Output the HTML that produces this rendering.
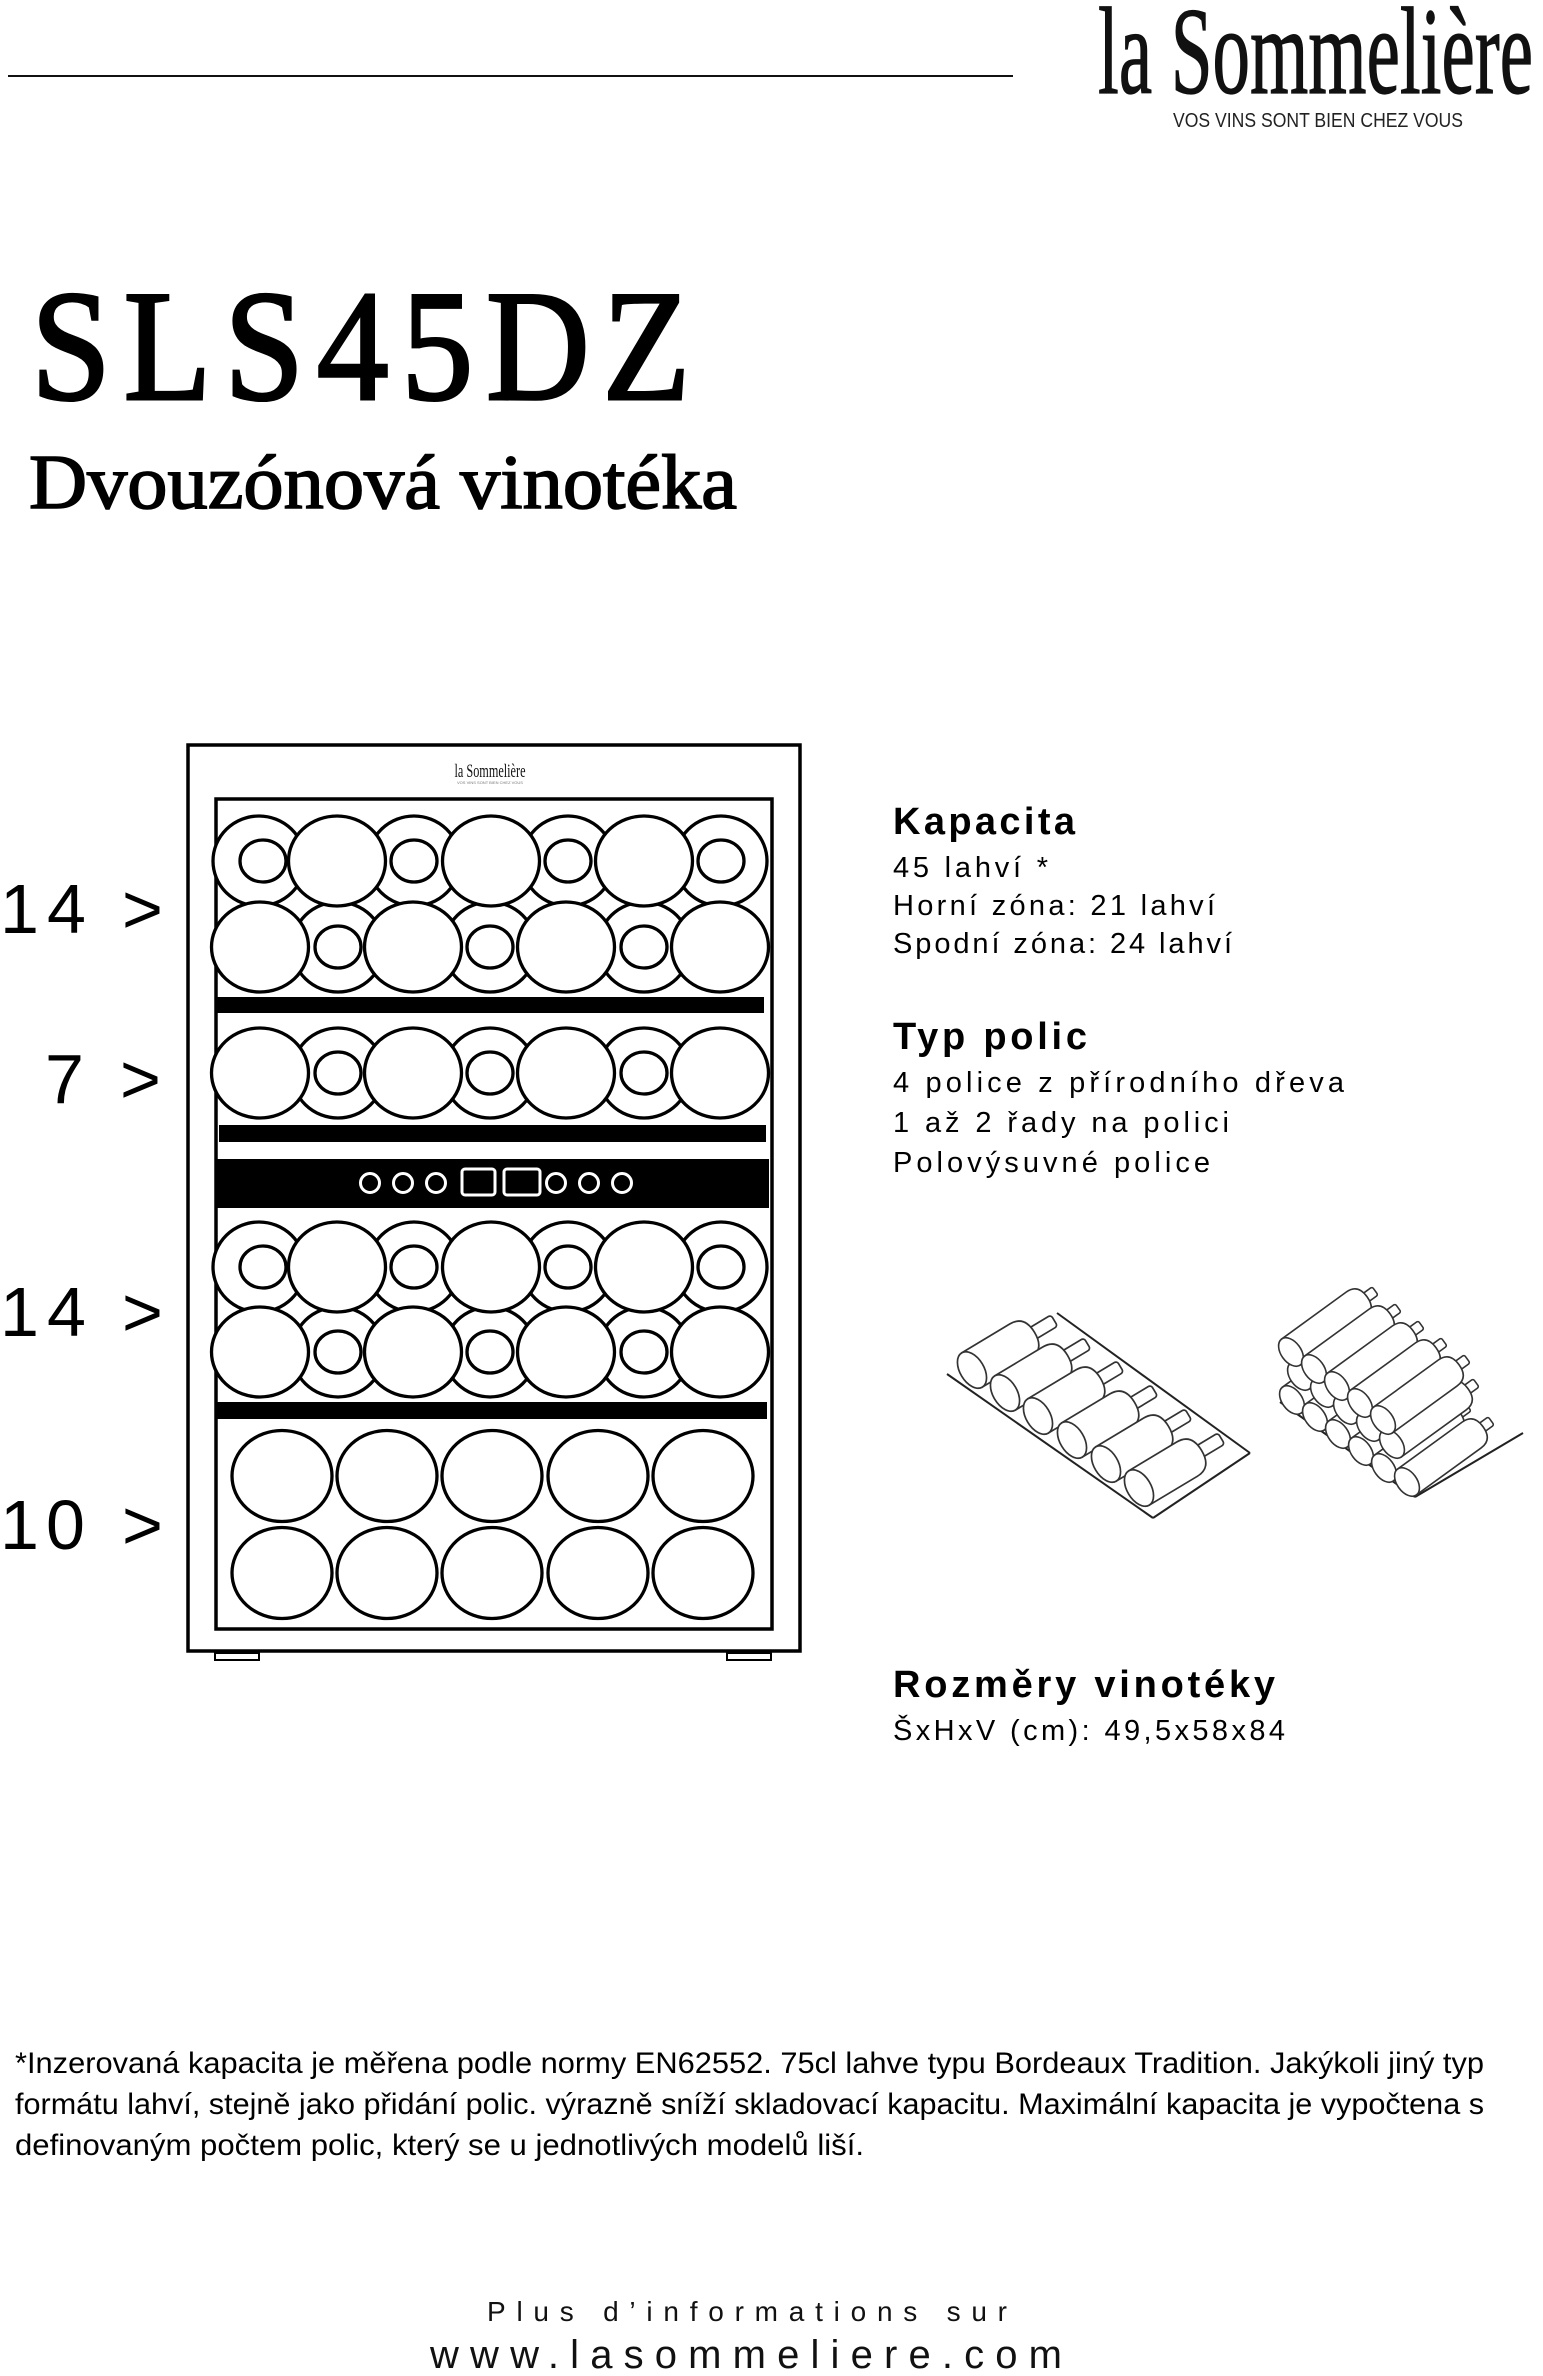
<!DOCTYPE html>
<html lang="cs">
<head>
<meta charset="utf-8">
<style>
html,body{margin:0;padding:0;background:#fff;}
body{width:1543px;height:2376px;overflow:hidden;}
svg{display:block;}
.sans{font-family:"Liberation Sans","DejaVu Sans",sans-serif;}
.serif{font-family:"Liberation Serif","DejaVu Serif",serif;}
</style>
</head>
<body>
<svg width="1543" height="2376" viewBox="0 0 1543 2376" xmlns="http://www.w3.org/2000/svg">
<defs>
  <g id="bl" transform="rotate(-31)" fill="#fff" stroke="#333" stroke-width="1.7">
    <rect x="66" y="-6.5" width="30" height="13" rx="3"/>
    <path d="M0,-20 L56,-20 Q73,-20 73,0 Q73,20 56,20 L0,20 Z"/>
    <ellipse cx="0" cy="0" rx="12" ry="20"/>
  </g>
  <g id="br" transform="rotate(-36)" fill="#fff" stroke="#333" stroke-width="1.6">
    <rect x="88" y="-5" width="16" height="10" rx="2"/>
    <path d="M0,-16 L80,-16 Q94,-16 94,0 Q94,16 80,16 L0,16 Z"/>
    <ellipse cx="0" cy="0" rx="10" ry="16"/>
  </g>
</defs>

<!-- Header -->
<line x1="8" y1="76" x2="1013" y2="76" stroke="#111" stroke-width="2"/>
<text class="serif" x="1098" y="93" font-size="124" textLength="435" lengthAdjust="spacingAndGlyphs" fill="#111" stroke="#111" stroke-width="1.2">la Sommelière</text>
<text class="sans" x="1173" y="127" font-size="20" textLength="290" lengthAdjust="spacingAndGlyphs" fill="#222">VOS VINS SONT BIEN CHEZ VOUS</text>

<!-- Title -->
<text class="serif" x="31" y="399" font-size="158" letter-spacing="14" textLength="672" lengthAdjust="spacingAndGlyphs" fill="#000" stroke="#000" stroke-width="3">SLS45DZ</text>
<text class="serif" x="29" y="508" font-size="77" textLength="708" lengthAdjust="spacingAndGlyphs" fill="#000" stroke="#000" stroke-width="1.6">Dvouzónová vinotéka</text>

<!-- Left labels -->
<g class="sans" font-size="70" fill="#000">
  <text x="0" y="933">1</text><text x="47" y="933">4</text><text x="122" y="933">&gt;</text>
  <text x="45" y="1103">7</text><text x="120" y="1103">&gt;</text>
  <text x="0" y="1336">1</text><text x="47" y="1336">4</text><text x="122" y="1336">&gt;</text>
  <text x="0" y="1549">1</text><text x="46" y="1549">0</text><text x="122" y="1549">&gt;</text>
</g>

<!-- Cabinet -->
<rect x="188" y="745" width="612" height="906" fill="#fff" stroke="#000" stroke-width="3.5"/>
<rect x="215" y="1653" width="44" height="7" fill="#fff" stroke="#000" stroke-width="2"/>
<rect x="727" y="1653" width="44" height="7" fill="#fff" stroke="#000" stroke-width="2"/>
<text class="serif" x="490" y="777" font-size="19" text-anchor="middle" textLength="71" lengthAdjust="spacingAndGlyphs" fill="#111">la Sommelière</text>
<text class="sans" x="490" y="784" font-size="4" text-anchor="middle" fill="#777">VOS VINS SONT BIEN CHEZ VOUS</text>
<rect x="216" y="799" width="556" height="830" fill="#fff" stroke="#000" stroke-width="3.5"/>

<!-- bars -->
<rect x="217" y="997" width="547" height="16" fill="#000"/>
<rect x="219" y="1125" width="547" height="17" fill="#000"/>
<rect x="216" y="1159" width="553" height="49" fill="#000"/>
<rect x="216" y="1402" width="551" height="17" fill="#000"/>

<!-- control panel -->
<g fill="#000" stroke="#fff" stroke-width="3">
  <circle cx="370" cy="1183" r="9.5"/>
  <circle cx="403" cy="1183" r="9.5"/>
  <circle cx="436" cy="1183" r="9.5"/>
  <rect x="462" y="1169" width="33" height="26" rx="3"/>
  <rect x="504" y="1169" width="36" height="26" rx="3"/>
  <circle cx="556" cy="1183" r="9.5"/>
  <circle cx="589" cy="1183" r="9.5"/>
  <circle cx="622" cy="1183" r="9.5"/>
</g>

<g fill="#fff" stroke="#000" stroke-width="3.3">
  <!-- Shelf 1 -->
  <ellipse cx="259" cy="861" rx="46" ry="45"/>
  <ellipse cx="414" cy="861" rx="46" ry="45"/>
  <ellipse cx="568" cy="861" rx="46" ry="45"/>
  <ellipse cx="721" cy="861" rx="46" ry="45"/>
  <ellipse cx="338" cy="947" rx="46" ry="45"/>
  <ellipse cx="490" cy="947" rx="46" ry="45"/>
  <ellipse cx="644" cy="947" rx="46" ry="45"/>
  <ellipse cx="337" cy="861" rx="48.5" ry="45"/>
  <ellipse cx="491" cy="861" rx="48.5" ry="45"/>
  <ellipse cx="644" cy="861" rx="48.5" ry="45"/>
  <ellipse cx="260" cy="947" rx="48.5" ry="45"/>
  <ellipse cx="413" cy="947" rx="48.5" ry="45"/>
  <ellipse cx="566" cy="947" rx="48.5" ry="45"/>
  <ellipse cx="720" cy="947" rx="48.5" ry="45"/>
  <ellipse cx="263" cy="861" rx="23" ry="21"/>
  <ellipse cx="414" cy="861" rx="23" ry="21"/>
  <ellipse cx="568" cy="861" rx="23" ry="21"/>
  <ellipse cx="721" cy="861" rx="23" ry="21"/>
  <ellipse cx="338" cy="947" rx="23" ry="21"/>
  <ellipse cx="490" cy="947" rx="23" ry="21"/>
  <ellipse cx="644" cy="947" rx="23" ry="21"/>

  <!-- Shelf 2 -->
  <ellipse cx="338" cy="1073" rx="46" ry="45"/>
  <ellipse cx="490" cy="1073" rx="46" ry="45"/>
  <ellipse cx="644" cy="1073" rx="46" ry="45"/>
  <ellipse cx="260" cy="1073" rx="48.5" ry="45"/>
  <ellipse cx="413" cy="1073" rx="48.5" ry="45"/>
  <ellipse cx="566" cy="1073" rx="48.5" ry="45"/>
  <ellipse cx="720" cy="1073" rx="48.5" ry="45"/>
  <ellipse cx="338" cy="1073" rx="23" ry="21"/>
  <ellipse cx="490" cy="1073" rx="23" ry="21"/>
  <ellipse cx="644" cy="1073" rx="23" ry="21"/>

  <!-- Shelf 3 -->
  <ellipse cx="259" cy="1267" rx="46" ry="45"/>
  <ellipse cx="414" cy="1267" rx="46" ry="45"/>
  <ellipse cx="568" cy="1267" rx="46" ry="45"/>
  <ellipse cx="721" cy="1267" rx="46" ry="45"/>
  <ellipse cx="338" cy="1352" rx="46" ry="45"/>
  <ellipse cx="490" cy="1352" rx="46" ry="45"/>
  <ellipse cx="644" cy="1352" rx="46" ry="45"/>
  <ellipse cx="337" cy="1267" rx="48.5" ry="45"/>
  <ellipse cx="491" cy="1267" rx="48.5" ry="45"/>
  <ellipse cx="644" cy="1267" rx="48.5" ry="45"/>
  <ellipse cx="260" cy="1352" rx="48.5" ry="45"/>
  <ellipse cx="413" cy="1352" rx="48.5" ry="45"/>
  <ellipse cx="566" cy="1352" rx="48.5" ry="45"/>
  <ellipse cx="720" cy="1352" rx="48.5" ry="45"/>
  <ellipse cx="263" cy="1267" rx="23" ry="21"/>
  <ellipse cx="414" cy="1267" rx="23" ry="21"/>
  <ellipse cx="568" cy="1267" rx="23" ry="21"/>
  <ellipse cx="721" cy="1267" rx="23" ry="21"/>
  <ellipse cx="338" cy="1352" rx="23" ry="21"/>
  <ellipse cx="490" cy="1352" rx="23" ry="21"/>
  <ellipse cx="644" cy="1352" rx="23" ry="21"/>

  <!-- Shelf 4 -->
  <ellipse cx="282" cy="1476" rx="50" ry="45.5"/>
  <ellipse cx="387" cy="1476" rx="50" ry="45.5"/>
  <ellipse cx="492" cy="1476" rx="50" ry="45.5"/>
  <ellipse cx="598" cy="1476" rx="50" ry="45.5"/>
  <ellipse cx="703" cy="1476" rx="50" ry="45.5"/>
  <ellipse cx="282" cy="1573" rx="50" ry="45.5"/>
  <ellipse cx="387" cy="1573" rx="50" ry="45.5"/>
  <ellipse cx="492" cy="1573" rx="50" ry="45.5"/>
  <ellipse cx="598" cy="1573" rx="50" ry="45.5"/>
  <ellipse cx="703" cy="1573" rx="50" ry="45.5"/>
</g>

<!-- Right column text -->
<g class="sans" fill="#000">
  <text x="893" y="834" font-size="38" font-weight="bold" textLength="182" lengthAdjust="spacing">Kapacita</text>
  <text x="893" y="877" font-size="29" textLength="155" lengthAdjust="spacing">45 lahví *</text>
  <text x="893" y="915" font-size="29" textLength="322" lengthAdjust="spacing">Horní zóna: 21 lahví</text>
  <text x="893" y="953" font-size="29" textLength="339" lengthAdjust="spacing">Spodní zóna: 24 lahví</text>

  <text x="893" y="1049" font-size="38" font-weight="bold" textLength="194" lengthAdjust="spacing">Typ polic</text>
  <text x="893" y="1092" font-size="29" textLength="451" lengthAdjust="spacing">4 police z přírodního dřeva</text>
  <text x="893" y="1132" font-size="29" textLength="336" lengthAdjust="spacing">1 až 2 řady na polici</text>
  <text x="893" y="1172" font-size="29" textLength="317" lengthAdjust="spacing">Polovýsuvné police</text>

  <text x="893" y="1697" font-size="38" font-weight="bold" textLength="382" lengthAdjust="spacing">Rozměry vinotéky</text>
  <text x="893" y="1740" font-size="29" textLength="392" lengthAdjust="spacing">ŠxHxV (cm): 49,5x58x84</text>
</g>

<!-- Shelf illustration: single row -->
<g stroke="#222" stroke-width="2" fill="none">
  <line x1="947" y1="1374" x2="1153" y2="1518"/>
  <line x1="1057" y1="1313" x2="1250" y2="1453"/>
  <line x1="1153" y1="1518" x2="1250" y2="1453"/>
</g>
<use href="#bl" x="972" y="1370"/>
<use href="#bl" x="1005" y="1393"/>
<use href="#bl" x="1038" y="1416"/>
<use href="#bl" x="1072" y="1440"/>
<use href="#bl" x="1106" y="1464"/>
<use href="#bl" x="1139" y="1488"/>

<!-- Shelf illustration: stacked -->
<g stroke="#222" stroke-width="2" fill="none">
  <line x1="1280" y1="1402" x2="1415" y2="1497"/>
  <line x1="1415" y1="1497" x2="1523" y2="1433"/>
</g>
<use href="#br" x="1292" y="1400"/>
<use href="#br" x="1315" y="1417"/>
<use href="#br" x="1338" y="1434"/>
<use href="#br" x="1361" y="1451"/>
<use href="#br" x="1384" y="1468"/>
<use href="#br" x="1407" y="1482"/>
<use href="#br" x="1300" y="1376"/>
<use href="#br" x="1323" y="1393"/>
<use href="#br" x="1346" y="1410"/>
<use href="#br" x="1369" y="1427"/>
<use href="#br" x="1392" y="1444"/>
<use href="#br" x="1291" y="1352"/>
<use href="#br" x="1314" y="1369"/>
<use href="#br" x="1337" y="1386"/>
<use href="#br" x="1360" y="1403"/>
<use href="#br" x="1383" y="1420"/>

<!-- Footnote -->
<g class="sans" fill="#000" font-size="30">
  <text x="15" y="2073" textLength="1469" lengthAdjust="spacingAndGlyphs">*Inzerovaná kapacita je měřena podle normy EN62552. 75cl lahve typu Bordeaux Tradition. Jakýkoli jiný typ</text>
  <text x="15" y="2114" textLength="1469" lengthAdjust="spacingAndGlyphs">formátu lahví, stejně jako přidání polic. výrazně sníží skladovací kapacitu. Maximální kapacita je vypočtena s</text>
  <text x="15" y="2155" textLength="849" lengthAdjust="spacingAndGlyphs">definovaným počtem polic, který se u jednotlivých modelů liší.</text>
</g>

<!-- URL -->
<g class="sans" fill="#111">
  <text x="487" y="2321" font-size="28" textLength="520" lengthAdjust="spacing">Plus d’informations sur</text>
  <text x="430" y="2368" font-size="40" textLength="632" lengthAdjust="spacing">www.lasommeliere.com</text>
</g>
</svg>
</body>
</html>
